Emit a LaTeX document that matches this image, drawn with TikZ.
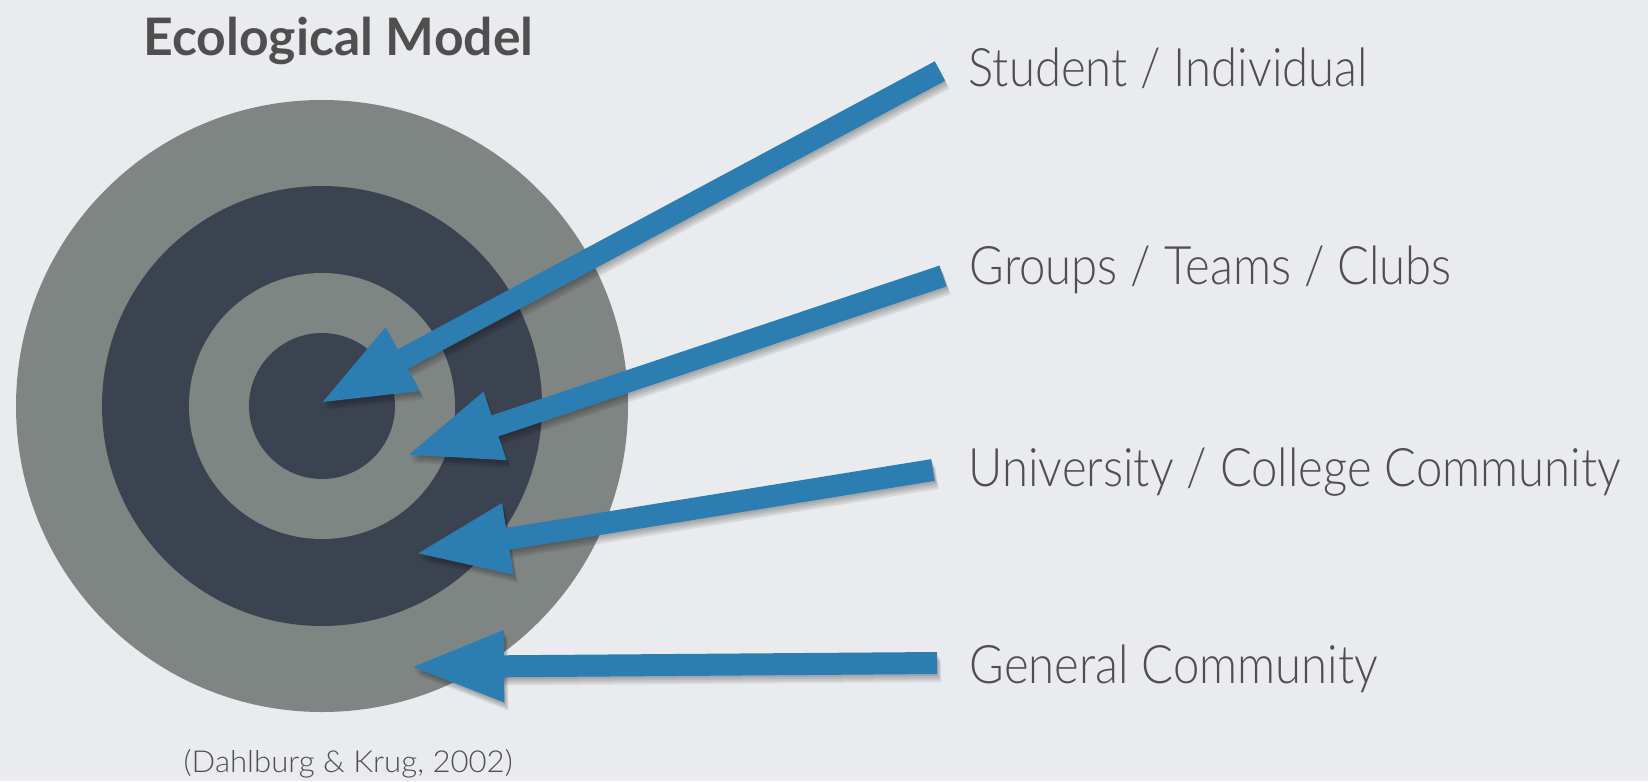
\documentclass[tikz,border=0pt]{standalone}
\usepackage{fontspec}
\setmainfont{Lato}
\newfontfamily\lightfont{Lato Light}[FakeStretch=0.89]
\newfontfamily\citefont{Lato Light}[FakeStretch=1.03]
\usetikzlibrary{arrows.meta}
\definecolor{bg}{HTML}{E9EBEE}
\definecolor{ringgrey}{HTML}{7F8583}
\definecolor{ringdark}{HTML}{3C4350}
\definecolor{arrowblue}{HTML}{2C7DB2}
\definecolor{textgrey}{HTML}{4F4F4F}

\begin{document}
\begin{tikzpicture}[x=0.01cm,y=-0.01cm]
	\tikzstyle{every node}+=[inner sep=0pt]
	\tikzstyle{level}=[font=\lightfont\fontsize{15.1}{18}\selectfont, text=textgrey, anchor=base west]
	\tikzstyle{pointer}=[line width=0.22cm, arrowblue, -{Triangle[length=0.95cm,width=0.65cm]}]
	\tikzstyle{pshadow}=[line width=0.22cm, black, opacity=0.08, -{Triangle[length=0.95cm,width=0.65cm]}]
	\fill [bg] (0,0) rectangle (1648,781);
	\useasboundingbox (0,0) rectangle (1648,781);
	\coordinate (c) at (322,406);
	\fill [ringgrey] (c) circle (306);
	\fill [ringdark] (c) circle (220);
	\fill [ringgrey] (c) circle (133);
	\fill [ringdark] (c) circle (73);
	\node (title) [anchor=base west, text=textgrey, font=\bfseries\fontsize{14.7}{17}\selectfont] at (143,55) {Ecological Model};
	\node (cite) [anchor=base west, text=textgrey, font=\citefont\fontsize{8.6}{10}\selectfont] at (183,772) {(Dahlburg \& Krug, 2002)};
	\node (student) [level] at (968,86) {Student / Individual};
	\node (groups) [level] at (969,284) {Groups / Teams / Clubs};
	\node (univ) [level] at (968,486) {University / College Community};
	\node (general) [level] at (969,683) {General Community};
	\coordinate (t1) at (940,71);
	\coordinate (t2) at (943,276);
	\coordinate (t3) at (933,470);
	\coordinate (t4) at (937,663);
	\coordinate (h1) at (319,404);
	\coordinate (h2) at (405,456);
	\coordinate (h3) at (414,554);
	\coordinate (h4) at (409,667);
	\foreach \i in {1,2,3,4}
		\foreach \s in {2,4,6,8}
			\draw [pshadow] ([shift={(\s/2,\s)}]t\i) -- ([shift={(\s/2,\s)}]h\i);
	\foreach \i in {1,2,3,4}
		\draw [pointer] (t\i) -- (h\i);
\end{tikzpicture}
\end{document}
